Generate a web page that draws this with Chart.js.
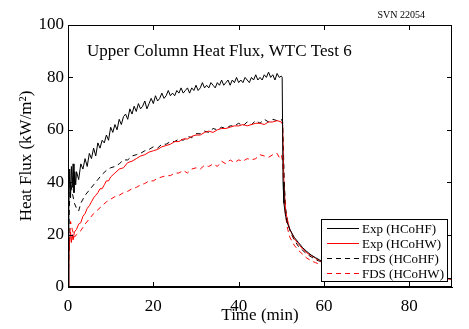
<!DOCTYPE html>
<html lang="en">
<head>
    <meta charset="UTF-8">
    <title>Upper Column Heat Flux, WTC Test 6</title>
    <script src="https://cdn.jsdelivr.net/npm/chart.js"></script>
    <style>
        html, body { margin: 0; padding: 0; background: #fff; }
        .chart-box { width: 469px; height: 329px; }
    </style>
</head>
<body>
    <div class="chart-box">
        <canvas id="fluxChart" width="469" height="329"></canvas>
    </div>

<script>
    // Exp (HCoHF)
    const expHFTime = [0, 0.2, 0.4, 0.6, 0.8, 1.0, 1.2, 1.4, 1.6, 1.8,
        2, 2.5, 3, 3.5, 4, 4.5, 5, 5.5, 6, 6.5, 7, 7.5, 8, 8.5, 9, 9.5, 10, 10.5, 11, 11.5,
        12, 12.5, 13, 13.5, 14, 14.5, 15, 15.5, 16, 16.5, 17, 17.5, 18, 18.5, 19, 19.5, 20, 20.5,
        21, 21.5, 22, 22.5, 23, 23.5, 24, 24.5, 25, 25.5, 26, 26.5, 27, 27.5, 28, 28.5, 29, 29.5,
        30, 30.5, 31, 31.5, 32, 32.5, 33, 33.5, 34, 34.5, 35, 35.5, 36, 36.5, 37, 37.5, 38, 38.5,
        39, 39.5, 40, 40.5, 41, 41.5, 42, 42.5, 43, 43.5, 44, 44.5, 45, 45.5, 46, 46.5, 47, 47.5,
        48, 48.5, 49, 49.5, 50, 50.2, 50.4, 50.6, 51, 51.5, 52, 53, 54, 55, 56, 57, 58, 59, 60,
        62, 65, 70, 75, 80, 85, 90];
    const expHFVal = [0, 30, 45, 34, 46, 38, 47, 36, 44, 39,
        44, 41, 47, 45, 49, 46, 51, 49, 53, 50, 55, 53, 56, 55, 58, 56, 61, 59, 62, 60,
        64, 62, 65, 66, 64, 68, 66, 69, 67, 70, 68, 69, 71, 68, 70, 72, 70, 73,
        71, 72, 74, 72, 73, 75, 73, 74, 73, 75, 74, 76, 74, 75, 76, 74, 76, 75,
        77, 75, 76, 78, 76, 77, 76, 78, 77, 76, 78, 77, 79, 77, 78, 79, 77, 79,
        78, 80, 78, 79, 78, 80, 79, 78, 80, 79, 81, 79, 80, 79, 81, 80, 82, 80,
        81, 79, 81.5, 80, 80.5, 80, 40, 32, 27, 24, 22, 19, 17, 15, 13.5, 12.2, 11.2, 10.3, 9.5,
        8.3, 7, 5.5, 4.6, 4, 3.5, 3.2];

    // Exp (HCoHW)
    const expHWTime = [0, 0.2, 0.4, 0.6, 0.8, 1.0, 1.2, 1.5, 2, 2.5, 3, 3.5, 4, 4.5, 5, 5.5,
        6, 6.5, 7, 7.5, 8, 8.5, 9, 9.5, 10, 11, 12, 13, 14, 15, 16, 17, 18, 19, 20,
        21, 22, 23, 24, 25, 26, 27, 28, 29, 30, 31, 32, 33, 34, 35, 36, 37, 38, 39, 40,
        41, 42, 43, 44, 45, 46, 47, 48, 49, 50, 50.3, 50.6, 51, 51.5, 52, 53, 54, 55, 56,
        57, 58, 59, 60, 62, 65, 70, 75, 80, 85, 90];
    const expHWVal = [0, 12, 18, 21, 17, 20, 18, 21, 22, 24, 24.5, 27, 28, 30, 31, 32.5,
        34, 35, 36, 37.5, 37.5, 39, 40.5, 40.5, 42, 43.5, 45, 45.5, 47.5, 48, 49, 50, 50.5, 51.5, 52,
        52.5, 53.5, 54, 54.5, 55.5, 55.5, 56.5, 56.5, 57.5, 58, 58, 59, 59.5, 59, 60, 60.5, 60.5, 61, 61.5, 61.5,
        62, 61.5, 62, 62.5, 62.5, 62, 63, 63, 63.5, 63, 62, 40, 29, 25, 22, 18.5, 16.5, 14.5, 13,
        12, 11, 10, 9.3, 8, 6.8, 5.3, 4.5, 3.8, 3.4, 3];

    // FDS (HCoHF)
    const fdsHFTime = [0, 0.3, 0.6, 1, 1.5, 2, 2.5, 3, 4, 5, 6, 7, 8, 9, 10,
        11, 12, 13, 14, 15, 16, 17, 18, 19, 20, 21, 22, 23, 24, 25, 26, 27, 28, 29, 30,
        31, 32, 33, 34, 35, 36, 37, 38, 39, 40, 41, 42, 43, 44, 45, 46, 47, 48, 49, 50,
        50.3, 50.7, 51, 51.5, 52, 53, 54, 55, 56, 57, 58, 59, 60, 62, 65, 70, 80, 90];
    const fdsHFVal = [0, 30, 40, 36, 32, 30, 29, 32, 35, 37, 39, 41, 43, 44.5, 45.5,
        46, 47, 48.5, 48.5, 50, 50.5, 51, 52, 52.5, 53.5, 53, 54.5, 54.5, 55.5, 55.5, 56.5, 56, 57.5, 57, 58.5,
        58.5, 59.5, 59, 60.5, 60, 61, 60.5, 61.5, 61.5, 62.5, 61.5, 63, 62, 63.5, 62.5, 64, 63, 64, 63.5, 64,
        63, 40, 30, 25, 21.5, 18, 15.5, 14, 12.5, 11.5, 10.5, 9.8, 9.2, 8, 6.8, 5.3, 3.8, 3];

    // FDS (HCoHW)
    const fdsHWTime = [0, 0.3, 0.6, 1, 1.5, 2, 3, 4, 5, 6, 7, 8, 9, 10,
        11, 12, 13, 14, 15, 16, 17, 18, 19, 20, 21, 22, 23, 24, 25, 26, 27, 28, 29, 30,
        31, 32, 33, 34, 35, 36, 37, 38, 39, 40, 41, 42, 43, 44, 45, 46, 47, 48, 49, 49.5, 50,
        50.3, 50.7, 51, 51.5, 52, 53, 54, 55, 56, 57, 58, 59, 60, 62, 65, 70, 80, 90];
    const fdsHWVal = [0, 15, 25, 22, 19, 20, 21.5, 24, 26, 28, 29.5, 31, 32.5, 33.5,
        34.5, 35, 36, 36.5, 37.5, 38, 39, 39.5, 40.5, 40.5, 41.5, 42, 42.5, 42.5, 43.5, 43.5, 44.5, 43.5, 45, 45.5,
        45, 46.5, 46, 47, 46, 48, 47, 48.5, 47.5, 48.5, 48, 49, 48.5, 49, 50.5, 50, 49.5, 50.5, 51, 49.5, 50.5,
        48, 34, 27, 22, 19, 16, 14, 12.5, 11, 10, 9.3, 8.7, 8.2, 7.3, 6.2, 5, 3.8, 3.2];

    const xTicks = [0, 20, 40, 60, 80];
    const yTicks = [0, 20, 40, 60, 80, 100];
    const legendLabels = ['Exp (HCoHF)', 'Exp (HCoHW)', 'FDS (HCoHF)', 'FDS (HCoHW)'];

    function toPoints(t, v) {
        return t.map((x, i) => ({ x: x, y: v[i] }));
    }

    const serif = "'Liberation Serif', 'Times New Roman', serif";

    // ticks pointing inwards on all four sides, box, title texts, legend
    const matlabLook = {
        id: 'matlabLook',
        afterDraw(chart) {
            const ctx = chart.ctx;
            const a = chart.chartArea;
            const sx = chart.scales.x;
            const sy = chart.scales.y;
            ctx.save();
            ctx.strokeStyle = '#000';
            ctx.lineWidth = 1;
            ctx.strokeRect(a.left + 0.5, a.top + 0.5, a.right - a.left - 1, a.bottom - a.top - 1);
            ctx.beginPath();
            xTicks.forEach(v => {
                const px = Math.round(sx.getPixelForValue(v)) + 0.5;
                ctx.moveTo(px, a.bottom); ctx.lineTo(px, a.bottom - 5);
                ctx.moveTo(px, a.top); ctx.lineTo(px, a.top + 5);
            });
            yTicks.forEach(v => {
                const py = Math.round(sy.getPixelForValue(v)) + 0.5;
                ctx.moveTo(a.left, py); ctx.lineTo(a.left + 5, py);
                ctx.moveTo(a.right, py); ctx.lineTo(a.right - 5, py);
            });
            ctx.stroke();

            ctx.fillStyle = '#000';
            ctx.font = '17px ' + serif;
            ctx.textBaseline = 'middle';
            ctx.fillText('Upper Column Heat Flux, WTC Test 6', a.left + 19, 52);

            ctx.font = '10px ' + serif;
            ctx.textAlign = 'right';
            ctx.fillText('SVN 22054', 425, 15);

            // legend
            const lx = 321, ly = 219, lw = 126, lh = 62;
            ctx.fillStyle = '#fff';
            ctx.fillRect(lx, ly, lw, lh);
            ctx.strokeRect(lx + 0.5, ly + 0.5, lw, lh);
            ctx.font = '13px ' + serif;
            ctx.textAlign = 'left';
            chart.data.datasets.forEach((ds, i) => {
                const y = ly + 9.5 + i * 15;
                ctx.beginPath();
                ctx.strokeStyle = ds.borderColor;
                ctx.setLineDash(ds.borderDash || []);
                ctx.moveTo(lx + 6, y);
                ctx.lineTo(lx + 38, y);
                ctx.stroke();
                ctx.setLineDash([]);
                ctx.fillStyle = '#000';
                ctx.fillText(legendLabels[i], lx + 41, y + 1);
            });
            ctx.restore();
        }
    };

    const ctx = document.getElementById('fluxChart').getContext('2d');
    new Chart(ctx, {
        type: 'line',
        data: {
            datasets: [
                { data: toPoints(expHFTime, expHFVal), borderColor: '#000000', borderWidth: 1 },
                { data: toPoints(expHWTime, expHWVal), borderColor: '#ff0000', borderWidth: 1 },
                { data: toPoints(fdsHFTime, fdsHFVal), borderColor: '#000000', borderWidth: 1, borderDash: [5, 4] },
                { data: toPoints(fdsHWTime, fdsHWVal), borderColor: '#ff0000', borderWidth: 1, borderDash: [5, 4] }
            ]
        },
        options: {
            responsive: false,
            animation: false,
            layout: { padding: { top: 25, right: 17, left: 0, bottom: 0 } },
            elements: { point: { radius: 0 }, line: { tension: 0 } },
            plugins: { legend: { display: false }, tooltip: { enabled: false } },
            scales: {
                x: {
                    type: 'linear',
                    min: 0,
                    max: 90,
                    afterFit: s => { s.height = 42; },
                    afterBuildTicks: s => { s.ticks = xTicks.map(v => ({ value: v })); },
                    grid: { display: false, drawTicks: false },
                    border: { color: '#000' },
                    ticks: { color: '#000', font: { family: serif, size: 17 }, padding: 9, maxRotation: 0 },
                    title: { display: true, text: 'Time (min)', color: '#000', font: { family: serif, size: 17 }, padding: { top: -4, bottom: 3 } }
                },
                y: {
                    min: 0,
                    max: 100,
                    afterFit: s => { s.width = 68; },
                    afterBuildTicks: s => { s.ticks = yTicks.map(v => ({ value: v })); },
                    grid: { display: false, drawTicks: false },
                    border: { color: '#000' },
                    ticks: { color: '#000', font: { family: serif, size: 17 }, padding: 4 },
                    title: { display: true, text: 'Heat Flux (kW/m²)', color: '#000', font: { family: serif, size: 17 }, padding: { top: 16, bottom: 0 } }
                }
            }
        },
        plugins: [matlabLook]
    });
</script>
</body>
</html>
